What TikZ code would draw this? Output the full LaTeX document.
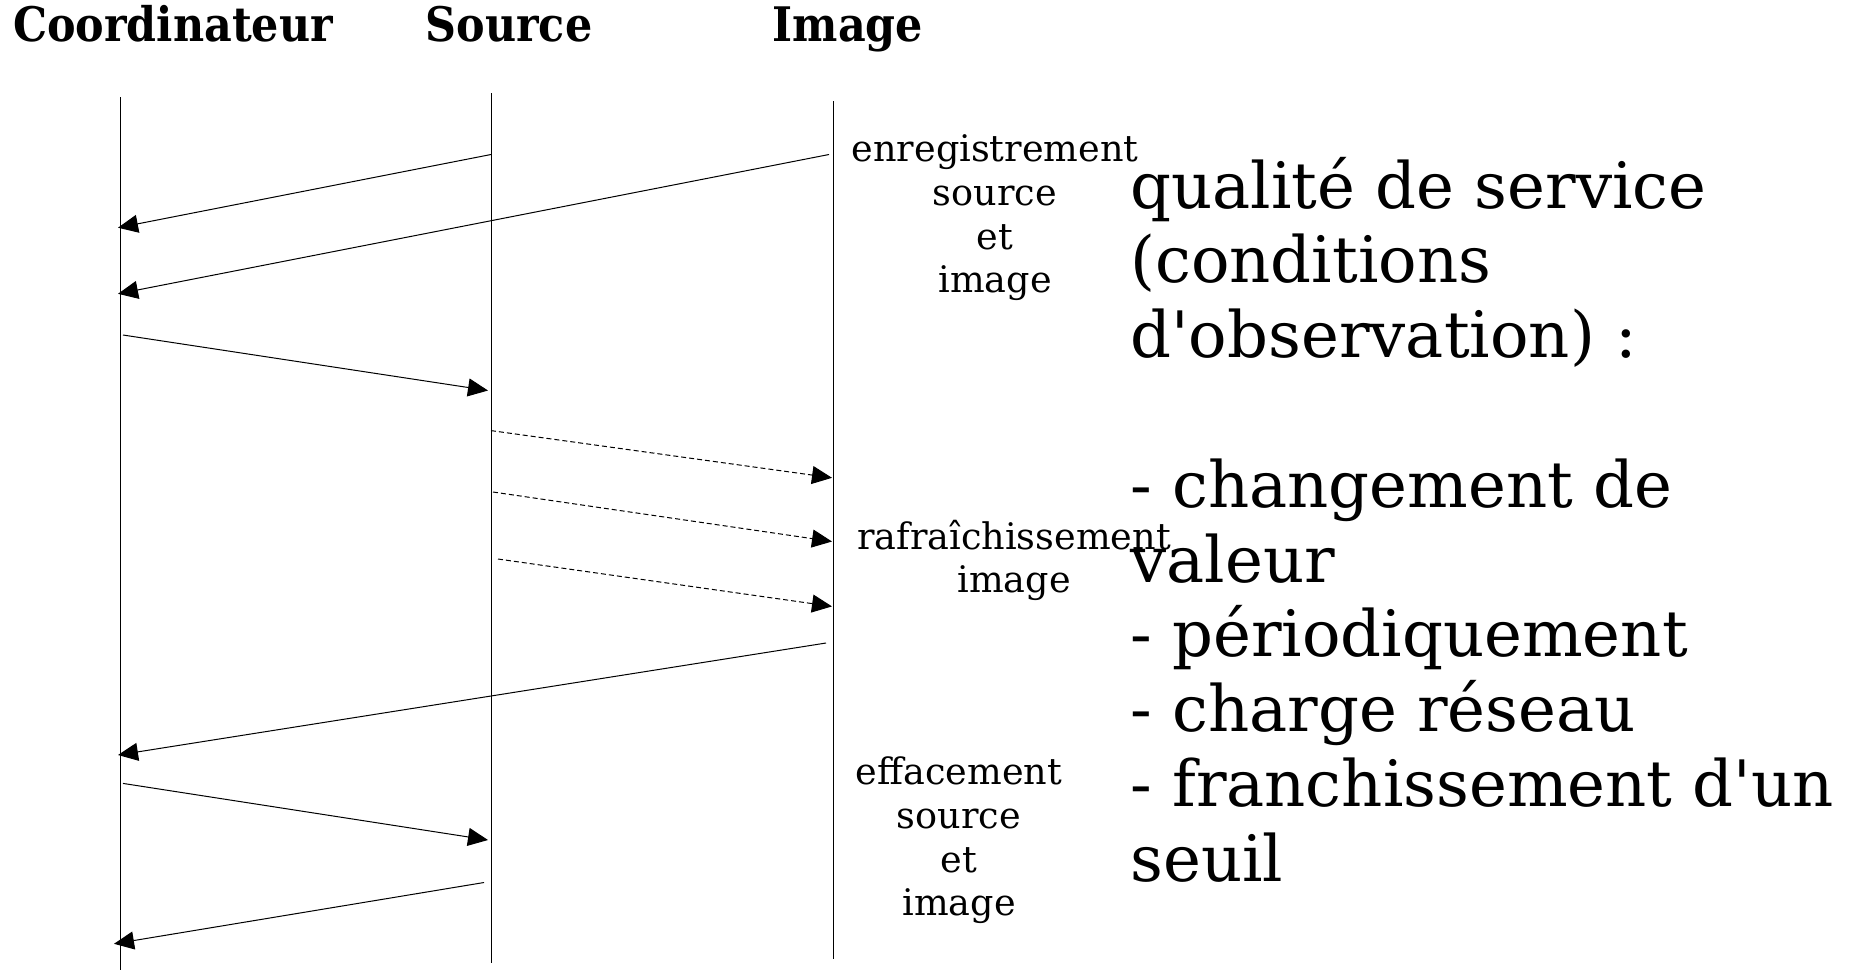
\documentclass[tikz,border=0pt]{standalone}
\usepackage{fontspec}
\setmainfont{DejaVu Serif}
\newfontfamily\headfont{DejaVu Serif Condensed}[BoldFont={* Bold}]
\usetikzlibrary{arrows.meta}

\begin{document}
\begin{tikzpicture}[%
    x=0.5pt, y=-0.5pt,
    title/.style={%
        font=\headfont\bfseries\fontsize{23.8}{28}\selectfont,
        anchor=base,
        inner sep=0pt
    },
    lifeline/.style={%
        line width=0.5pt
    },
    message/.style={%
        line width=0.5pt,
        -{Triangle[length=10pt,width=9pt]}
    },
    refresh/.style={%
        message,
        dash pattern=on 2.5pt off 1.5pt
    },
    label/.style={%
        font=\fontsize{18.3}{21.8}\selectfont,
        align=center,
        anchor=north,
        inner sep=0pt
    },
    note/.style={%
        font=\fontsize{32}{37.4}\selectfont,
        align=left,
        anchor=north west,
        inner sep=0pt
    },
    >=stealth
]
\useasboundingbox (0,0) rectangle (1850,970);

% Titles
    \node[title] (coordTitle) at (173,41) {Coordinateur};
    \node[title] (sourceTitle) at (509,41) {Source};
    \node[title] (imageTitle) at (848,41) {Image};

% Lifelines
    \coordinate (coordTop) at (120,97);
    \coordinate (coordBot) at (120,970);
    \coordinate (sourceTop) at (491,93);
    \coordinate (sourceBot) at (491,963);
    \coordinate (imageTop) at (833,101);
    \coordinate (imageBot) at (833,959);

% Message ends
    \coordinate (source1) at (491,154.5);
    \coordinate (coord1) at (118,227.7);
    \coordinate (image2) at (829,154.5);
    \coordinate (coord2) at (118,293.8);
    \coordinate (coord3) at (123,335);
    \coordinate (source3) at (488,390.5);
    \coordinate (source4) at (491,430.6);
    \coordinate (image4) at (832,477.8);
    \coordinate (source5) at (493,492);
    \coordinate (image5) at (832,541.5);
    \coordinate (source6) at (498,559);
    \coordinate (image6) at (832,606.4);
    \coordinate (image7) at (826,643);
    \coordinate (coord7) at (118,755);
    \coordinate (coord8) at (123,783.4);
    \coordinate (source8) at (488,840);
    \coordinate (source9) at (484,882.5);
    \coordinate (coord9) at (114,943.8);

% Labels
    \node[label] (register) at (995,134.6) {enregistrement\\source\\et\\image};
    \node[label] (refreshLabel) at (1014,519.5) {rafraîchissement\\image};
    \node[label] (erase) at (959,756.6) {effacement\\source\\et\\image};
    \node[note] (quality) at (1130,156.5) {qualité de service\\(conditions\\d\textquotesingle observation) :\\\mbox{}\\- changement de\\valeur\\- périodiquement\\- charge réseau\\- franchissement d\textquotesingle un\\seuil};

% Lines
\draw[lifeline] (coordTop) -- (coordBot);
\draw[lifeline] (sourceTop) -- (sourceBot);
\draw[lifeline] (imageTop) -- (imageBot);

% Arrows
\draw[message] (source1) -- (coord1);
\draw[message] (image2) -- (coord2);
\draw[message] (coord3) -- (source3);

\draw[refresh] (source4) -- (image4);
\draw[refresh] (source5) -- (image5);
\draw[refresh] (source6) -- (image6);

\draw[message] (image7) -- (coord7);
\draw[message] (coord8) -- (source8);
\draw[message] (source9) -- (coord9);

\end{tikzpicture}
\end{document}
